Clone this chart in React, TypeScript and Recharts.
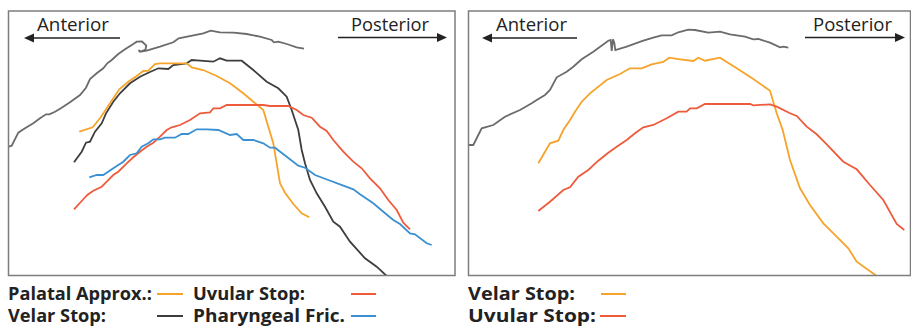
import React from "react";
import { LineChart, Line, XAxis, YAxis } from "recharts";

type Pt = [number, number];

// tongue / palate traces, x = distance from front of frame, y = height above frame bottom
const palateLeft: Pt[] = [
  [0, 129], [3.7, 130.3], [10.3, 143.3], [17, 147.7], [25.3, 152.7], [32, 157.7], [38, 161.7],
  [41.3, 161.7], [47, 164.3], [53.7, 168.3], [62, 173.7], [72, 181], [78, 188.3], [82, 197],
  [88.7, 202.7], [95.3, 207.7], [99.3, 212.7], [103.7, 216], [110.3, 222], [117, 226.7],
  [125.3, 232], [128.7, 234.3], [134, 234.5], [138.3, 230.5], [137.5, 226.5], [133, 224.5],
  [130.5, 225.8], [132, 224.3], [138.7, 225.3], [152, 229.3], [165.3, 233.7], [170.7, 237.7],
  [195.3, 242.7], [202.7, 245.3], [212, 243.7], [225.3, 243.3], [238.7, 242], [252, 239.3],
  [263.7, 236], [266, 233.7], [270.3, 234.3], [278.7, 232], [288.7, 228.7], [296, 227.3],
];
const palatalApprox: Pt[] = [
  [71.3, 144.3], [84.7, 148.7], [92, 157.7], [98.7, 167.7], [105.3, 177.7], [111.3, 186.7],
  [120.3, 194.3], [128.7, 200], [135.3, 205], [140.3, 205.3], [147, 212], [152, 212.7],
  [168.7, 212.7], [178.7, 212.7], [183.7, 208.7], [195.3, 206], [208.7, 200], [222, 192.7],
  [235.3, 182.7], [245.3, 174.3], [255.3, 166], [260.3, 149.3], [265.3, 132.7], [268.7, 112.7],
  [272, 92.7], [277, 83.3], [285.3, 72], [293.7, 62.7], [301.3, 58.7],
];
const velarStopLeft: Pt[] = [
  [66, 113.7], [73.7, 124.3], [78, 133.3], [82, 134.3], [87, 144.3], [93.7, 152.7], [98, 162.7],
  [105.3, 174.3], [112, 182.7], [122, 192.7], [132, 199.3], [140.3, 203.3], [150.3, 207.7],
  [160.3, 207], [165.3, 211], [178.7, 212.7], [183.7, 216], [192, 215.3], [205.3, 214.3],
  [212, 217.7], [218.7, 215.3], [233.7, 215.3], [245.3, 206], [258.7, 194.3], [270.3, 187.7],
  [278.7, 179.3], [283.7, 166], [290.3, 146], [293.7, 126], [297, 112.7], [302, 96],
  [308.7, 82.7], [317, 69.3], [325.3, 54.3], [332, 49.3], [342, 34.3], [357, 17.7],
  [368.7, 9.3], [378.7, 0],
];
const uvularStopLeft: Pt[] = [
  [66, 66.7], [73.7, 75], [79.3, 81], [85.3, 85.3], [93.7, 89.3], [98.7, 94.3], [105.3, 101],
  [110.3, 104.3], [118.7, 112.7], [125.3, 118.7], [132, 124.3], [138.7, 129.3], [145.3, 133.3],
  [152, 139.3], [158.7, 146], [163.7, 148.7], [172, 151], [182, 156], [192, 162.7],
  [202, 163.7], [205.3, 167.7], [212, 167.7], [218.7, 171], [232, 171], [255.3, 171],
  [262, 170], [280.3, 170], [288.7, 166], [295.3, 161], [303.7, 158.3], [312, 149.3],
  [318.7, 145], [325.3, 136], [335.3, 124.3], [345.3, 114.3], [353.7, 107.7], [362, 97.7],
  [372, 87.7], [380.3, 76], [388.7, 66], [395.3, 53.3], [402, 46.7],
];
const pharyngealFric: Pt[] = [
  [81.3, 98.7], [88.7, 101], [95.3, 101], [105.3, 107.7], [115.3, 114.3], [122, 121],
  [128.7, 122.7], [133.7, 129.3], [140.3, 132.7], [145.3, 136.7], [152, 136.7], [157, 138.3],
  [167, 138.3], [173.7, 142], [180.3, 142], [188.7, 146.7], [198.7, 146.7], [210.3, 146],
  [222, 141], [228.7, 142], [235.3, 136], [245.3, 136], [255.3, 132.7], [262, 128.3],
  [267, 128.3], [278.7, 119.3], [290.3, 110.3], [297, 108.3], [307, 101], [320.3, 96],
  [332, 91.7], [345.3, 86.7], [352, 81.7], [365.3, 72.7], [375.3, 64.3], [385.3, 56],
  [392, 52], [402, 42.7], [407, 41.7], [418.7, 32.7], [423.7, 31],
];

const palateRight: Pt[] = [
  [0.3, 131], [5.3, 131], [10.3, 141], [13.7, 147.7], [25.3, 151], [37, 159.3], [52, 166],
  [63.7, 172.7], [68.7, 176], [77, 181], [82, 186], [88.7, 198.7], [98.7, 204.3],
  [105.3, 209.3], [113.7, 216.7], [125.3, 224.3], [140.3, 235.3], [142.7, 236], [143.7, 225],
  [145, 236.7], [146.3, 233.3], [147.3, 226], [158.7, 229.3], [175.3, 235.3], [185.3, 238.3],
  [193.7, 240.7], [203.7, 240.7], [210.3, 243.7], [220.3, 246.3], [227, 246], [240.3, 243.3],
  [252, 244.3], [262, 241.7], [277, 239.3], [285.3, 236.7], [290.3, 237], [302, 233.3],
  [312, 228.7], [315.3, 229.3], [320.3, 228.3],
];
const velarStopRight: Pt[] = [
  [70.3, 112.7], [82, 132.7], [90.3, 135.3], [95.3, 146], [102, 156], [107, 164.3],
  [113.7, 174.3], [122, 182.7], [138.7, 196], [152, 202], [162, 207.7], [173.7, 207.7],
  [183.7, 211.7], [195.3, 214], [201.3, 218.3], [212, 216.7], [225.3, 215], [230.3, 218.3],
  [237, 215.3], [252, 218.3], [268.7, 207.7], [285.3, 197], [302, 185.3], [308.7, 162.7],
  [314.7, 146], [322, 116], [332, 87.7], [342, 71], [355.3, 52.7], [368.7, 39.3],
  [380.3, 27.7], [388.7, 14.3], [408.7, 0],
];
const uvularStopRight: Pt[] = [
  [70.3, 65], [82, 74.3], [95.3, 86], [102, 88.7], [110.3, 99.3], [120.3, 106], [130.3, 115.3],
  [140.3, 123.3], [148.7, 129.3], [158.7, 136], [167, 142.7], [175.3, 148.7], [185.3, 151],
  [198.7, 157.7], [210.3, 164.3], [218.7, 164.3], [222, 167.7], [228.7, 167.7], [237, 172],
  [252, 172], [268.7, 172], [282, 172], [285.3, 170.7], [302, 171.7], [308.7, 169.3],
  [322, 162.7], [328.7, 160], [338.7, 149.3], [348.7, 141.7], [358.7, 131.7], [375.3, 114.3],
  [388.7, 106.7], [402, 91], [415.3, 76], [428.7, 52], [436.3, 46],
];

const legendLeft = ["Palatal Approx.:", "Uvular Stop:", "Velar Stop:", "Pharyngeal Fric."];
const legendRight = ["Velar Stop:", "Uvular Stop:"];

const ORANGE = "#f6a32b";
const RED = "#ee5b3c";
const BLUE = "#3a90d2";
const DARK = "#3d3d3d";
const PALATE = "#6b6b6b";

type Series = { key: string; color: string; pts: Pt[] };

const rows = (pts: Pt[]) => pts.map(([x, y]) => ({ x, y }));

function Panel({ width, series }: { width: number; series: Series[] }) {
  return (
    <LineChart width={width} height={265} margin={{ top: 0, right: 0, bottom: 0, left: 0 }}>
      <XAxis type="number" dataKey="x" domain={[0, width]} hide allowDataOverflow />
      <YAxis type="number" dataKey="y" domain={[0, 265]} hide allowDataOverflow />
      {series.map((s) => (
        <Line
          key={s.key}
          data={rows(s.pts)}
          dataKey="y"
          type="linear"
          stroke={s.color}
          strokeWidth={1.8}
          dot={false}
          activeDot={false}
          isAnimationActive={false}
        />
      ))}
    </LineChart>
  );
}

const font = "'Open Sans', 'Noto Sans', sans-serif";

function Arrow({ x1, x2, y }: { x1: number; x2: number; y: number }) {
  // x2 is the tip
  const d = x2 > x1 ? -1 : 1;
  return (
    <g>
      <line x1={x1} x2={x2 + d * 6} y1={y} y2={y} stroke="#222" strokeWidth={1.3} />
      <polygon points={`${x2},${y} ${x2 + d * 10},${y - 4.5} ${x2 + d * 10},${y + 4.5}`} fill="#222" />
    </g>
  );
}

export default function App() {
  return (
    <div style={{ position: "absolute", left: 0, top: 0, width: 911, height: 326, background: "#fff" }}>
      <div style={{ position: "absolute", left: 8, top: 11 }}>
        <Panel
          width={447}
          series={[
            { key: "palate", color: PALATE, pts: palateLeft },
            { key: "velar", color: DARK, pts: velarStopLeft },
            { key: "pal", color: ORANGE, pts: palatalApprox },
            { key: "uvular", color: RED, pts: uvularStopLeft },
            { key: "phar", color: BLUE, pts: pharyngealFric },
          ]}
        />
      </div>
      <div style={{ position: "absolute", left: 468, top: 11 }}>
        <Panel
          width={442}
          series={[
            { key: "palate", color: PALATE, pts: palateRight },
            { key: "velar", color: ORANGE, pts: velarStopRight },
            { key: "uvular", color: RED, pts: uvularStopRight },
          ]}
        />
      </div>
      <svg
        width={911}
        height={326}
        style={{ position: "absolute", left: 0, top: 0, pointerEvents: "none" }}
        fontFamily={font}
      >
        <rect x={8.5} y={11} width={446.5} height={264.5} fill="none" stroke="#7d7d7d" strokeWidth={1.5} />
        <rect x={468.5} y={11} width={442} height={264.5} fill="none" stroke="#7d7d7d" strokeWidth={1.5} />

        <text x={37} y={31} fontSize={18.5} fill="#222" textLength={72} lengthAdjust="spacingAndGlyphs">Anterior</text>
        <text x={351} y={31} fontSize={18.5} fill="#222" textLength={78} lengthAdjust="spacingAndGlyphs">Posterior</text>
        <Arrow x1={120} x2={24} y={38} />
        <Arrow x1={338} x2={447} y={37.5} />

        <text x={496} y={31} fontSize={18.5} fill="#222" textLength={71} lengthAdjust="spacingAndGlyphs">Anterior</text>
        <text x={813} y={31} fontSize={18.5} fill="#222" textLength={79} lengthAdjust="spacingAndGlyphs">Posterior</text>
        <Arrow x1={577} x2={482} y={38} />
        <Arrow x1={805} x2={905} y={37.5} />

        <g fontWeight="bold" fontSize={17} fill="#222">
          <text x={8} y={300} textLength={144} lengthAdjust="spacingAndGlyphs">{legendLeft[0]}</text>
          <text x={193} y={300} textLength={112} lengthAdjust="spacingAndGlyphs">{legendLeft[1]}</text>
          <text x={8} y={322} textLength={98} lengthAdjust="spacingAndGlyphs">{legendLeft[2]}</text>
          <text x={193} y={322} textLength={152} lengthAdjust="spacingAndGlyphs">{legendLeft[3]}</text>
          <text x={468} y={300} textLength={107} lengthAdjust="spacingAndGlyphs">{legendRight[0]}</text>
          <text x={468} y={322} textLength={128} lengthAdjust="spacingAndGlyphs">{legendRight[1]}</text>
        </g>
        <g strokeWidth={2}>
          <line x1={157} x2={183} y1={294} y2={294} stroke={ORANGE} />
          <line x1={157} x2={183} y1={316} y2={316} stroke={DARK} />
          <line x1={351} x2={376} y1={294} y2={294} stroke={RED} />
          <line x1={351} x2={376} y1={316} y2={316} stroke={BLUE} />
          <line x1={601} x2={626} y1={294} y2={294} stroke={ORANGE} />
          <line x1={600} x2={626} y1={316} y2={316} stroke={RED} />
        </g>
      </svg>
    </div>
  );
}
